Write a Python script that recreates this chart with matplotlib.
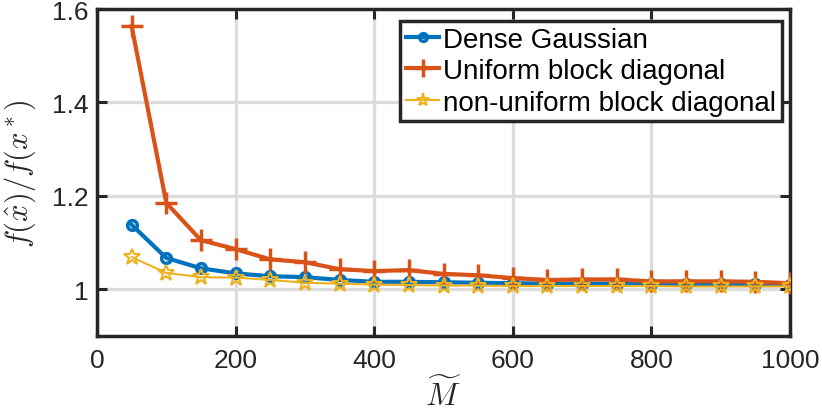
import matplotlib
matplotlib.use("Agg")
import matplotlib.pyplot as plt

plt.rcParams['font.family'] = ['Liberation Sans', 'DejaVu Sans']
plt.rcParams['mathtext.fontset'] = 'cm'

m_values = [50, 100, 150, 200, 250, 300, 350, 400, 450, 500,
            550, 600, 650, 700, 750, 800, 850, 900, 950, 1000]
dense_gaussian = [1.138, 1.067, 1.045, 1.034, 1.028, 1.026, 1.020, 1.016, 1.016, 1.015,
                  1.014, 1.013, 1.012, 1.012, 1.012, 1.011, 1.011, 1.011, 1.011, 1.010]
uniform_block = [1.563, 1.185, 1.105, 1.086, 1.064, 1.058, 1.043, 1.039, 1.041, 1.033,
                 1.030, 1.024, 1.020, 1.021, 1.021, 1.017, 1.017, 1.017, 1.016, 1.013]
nonuniform_block = [1.069, 1.035, 1.026, 1.025, 1.020, 1.014, 1.012, 1.010, 1.009, 1.008,
                    1.008, 1.007, 1.007, 1.007, 1.007, 1.007, 1.006, 1.006, 1.006, 1.006]
labels = ["Dense Gaussian", "Uniform block diagonal", "non-uniform block diagonal"]
x_ticks = [0, 200, 400, 600, 800, 1000]
y_ticks = [1.0, 1.2, 1.4, 1.6]
y_tick_labels = ["1", "1.2", "1.4", "1.6"]

fig = plt.figure(figsize=(8.22, 4.14), dpi=100)
ax = fig.add_axes([97/822, 1 - 337/414, (790-97)/822, (337-10)/414])

ax.plot(m_values, dense_gaussian, color='#0072BD', lw=3, marker='o', ms=7,
        mfc='none', mew=2.5, label=labels[0], zorder=3)
ax.plot(m_values, uniform_block, color='#D95319', lw=3, marker='+', ms=16,
        mew=2.5, label=labels[1], zorder=4)
ax.plot(m_values, nonuniform_block, color='#EDB120', lw=1.5, marker='*', ms=12,
        mfc='none', mew=1.5, label=labels[2], zorder=5)

ax.set_xlim(0, 1000)
ax.set_ylim(0.9, 1.6)
ax.set_xticks(x_ticks)
ax.set_yticks(y_ticks)
ax.set_yticklabels(y_tick_labels)
ax.grid(True, color='#dcdcdc', lw=2.4)
ax.set_axisbelow(True)
ax.tick_params(direction='in', length=7, width=2.2, labelsize=19, top=True, right=True,
               colors='#262626', labelcolor='#262626')
ax.tick_params(axis='x', pad=9)
ax.tick_params(axis='y', pad=6)
for s in ax.spines.values():
    s.set_linewidth(2.5)
    s.set_color('#262626')

ax.set_xlabel(r'$\widetilde{M}$', fontsize=23, color='#262626', labelpad=4)
ax.set_ylabel(r'$f(\hat{x})/f(x^*)$', fontsize=22, color='#262626', labelpad=10)

leg = ax.legend(loc='upper right', bbox_to_anchor=(0.9885, 0.963), fontsize=20,
                frameon=True, fancybox=False, framealpha=1, edgecolor='#262626',
                handlelength=1.2, handletextpad=0.15, borderpad=0.2, labelspacing=0.2,
                borderaxespad=0, markerscale=0.8)
leg.get_frame().set_linewidth(2.5)

fig.savefig('out.png', dpi=100)
